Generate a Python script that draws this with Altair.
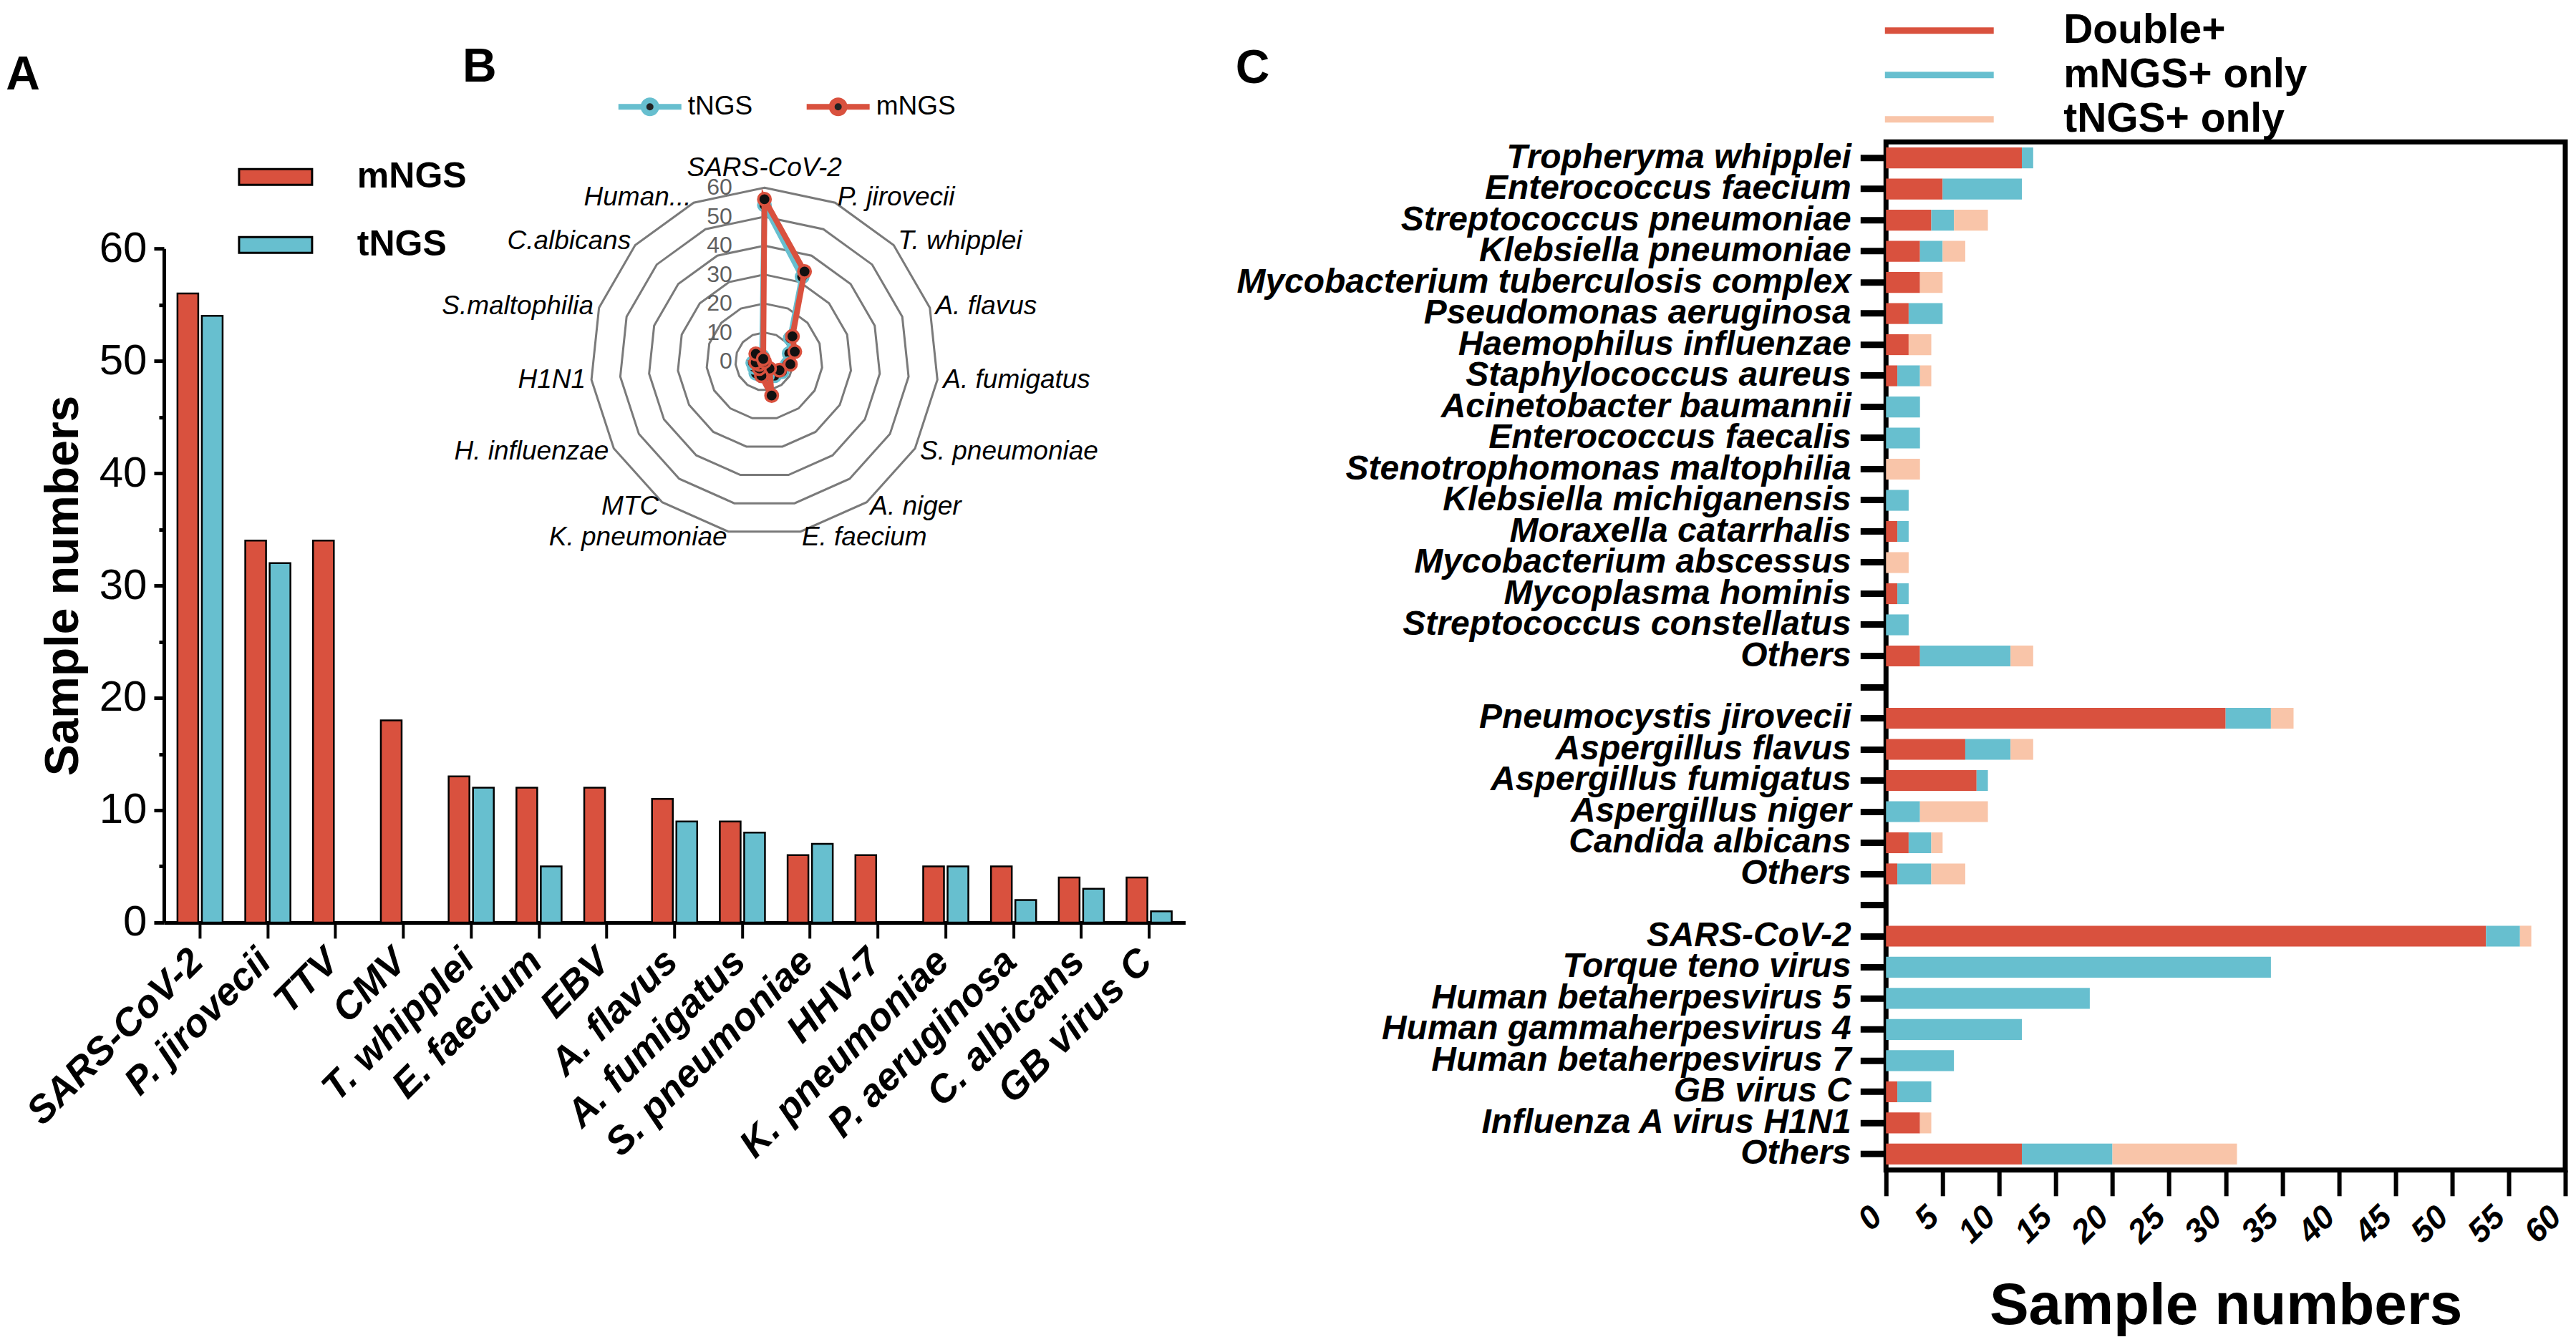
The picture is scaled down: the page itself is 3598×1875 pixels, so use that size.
import altair as alt
import pandas as pd

RED = "#D9513E"
TEAL = "#67BFCF"
PEACH = "#F9C5A9"
FONT = "Liberation Sans"

# ---------------- Panel A data ----------------
a_species = ["SARS-CoV-2", "P. jirovecii", "TTV", "CMV", "T. whipplei", "E. faecium", "EBV",
             "A. flavus", "A. fumigatus", "S. pneumoniae", "HHV-7", "K. pneumoniae",
             "P. aeruginosa", "C. albicans", "GB virus C"]
a_mngs = [56, 34, 34, 18, 13, 12, 12, 11, 9, 6, 6, 5, 5, 4, 4]
a_tngs = [54, 32, 0, 0, 12, 5, 0, 9, 8, 7, 0, 5, 2, 3, 1]
a_methods = ["mNGS", "tNGS"]

# ---------------- Panel B data ----------------
b_labels = ["SARS-CoV-2", "P. jirovecii", "T. whipplei", "A. flavus", "A. fumigatus",
            "S. pneumoniae", "A. niger", "E. faecium", "K. pneumoniae", "MTC",
            "H. influenzae", "H1N1", "S.maltophilia", "C.albicans", "Human..."]
b_mngs = [56, 34, 13, 11, 9, 6, 3, 12, 5, 3, 2, 3, 0, 4, 1]
b_tngs = [54, 32, 12, 9, 8, 7, 6, 5, 5, 5, 4, 4, 3, 3, 2]
b_rings = [10, 20, 30, 40, 50, 60]
b_ring_ticks = [0, 10, 20, 30, 40, 50, 60]

# ---------------- Panel C data ----------------
bac_names = ["Tropheryma whipplei", "Enterococcus faecium", "Streptococcus pneumoniae",
             "Klebsiella pneumoniae", "Mycobacterium tuberculosis complex",
             "Pseudomonas aeruginosa", "Haemophilus influenzae", "Staphylococcus aureus",
             "Acinetobacter baumannii", "Enterococcus faecalis", "Stenotrophomonas maltophilia",
             "Klebsiella michiganensis", "Moraxella catarrhalis", "Mycobacterium abscessus",
             "Mycoplasma hominis", "Streptococcus constellatus", "Others"]
bac_double = [12, 5, 4, 3, 3, 2, 2, 1, 0, 0, 0, 0, 1, 0, 1, 0, 3]
bac_monly = [1, 7, 2, 2, 0, 3, 0, 2, 3, 3, 0, 2, 1, 0, 1, 2, 8]
bac_tonly = [0, 0, 3, 2, 2, 0, 2, 1, 0, 0, 3, 0, 0, 2, 0, 0, 2]

fun_names = ["Pneumocystis jirovecii", "Aspergillus flavus", "Aspergillus fumigatus",
             "Aspergillus niger", "Candida albicans", "Others"]
fun_double = [30, 7, 8, 0, 2, 1]
fun_monly = [4, 4, 1, 3, 2, 3]
fun_tonly = [2, 2, 0, 6, 1, 3]

vir_names = ["SARS-CoV-2", "Torque teno virus", "Human betaherpesvirus 5",
             "Human gammaherpesvirus 4", "Human betaherpesvirus 7", "GB virus C",
             "Influenza A virus H1N1", "Others"]
vir_double = [53, 0, 0, 0, 0, 1, 3, 12]
vir_monly = [3, 34, 18, 12, 6, 3, 0, 8]
vir_tonly = [1, 0, 0, 0, 0, 0, 1, 11]

c_cats = ["Double+", "mNGS+ only", "tNGS+ only"]

# ---------------- layout constants (pixels) ----------------
LW, LH = 1427, 1091          # left plot area (panels A + B)
RW, RH = 949, 1437           # right plot area (panel C)
GAP = 979                    # space between the two plot areas
A_TOP = 149                  # pixel row of the value 60 in panel A
CX, CY, K = 839, 307, 4.05   # radar centre and pixels per unit

# ================= Panel A =================
dfa = pd.DataFrame({
    "species": a_species * 2,
    "method": ["mNGS"] * len(a_species) + ["tNGS"] * len(a_species),
    "count": a_mngs + a_tngs,
})

a_color = alt.Scale(domain=a_methods, range=[RED, TEAL])
rect_path = "M-2.55,-0.55L2.55,-0.55L2.55,0.55L-2.55,0.55Z"

bars_a = alt.Chart(dfa).mark_bar(stroke="black", strokeWidth=2.5).encode(
    x=alt.X("species:N", sort=a_species,
            scale=alt.Scale(paddingInner=0.334, paddingOuter=0.2),
            axis=alt.Axis(title=None, labelAngle=-45, labelAlign="right", labelBaseline="middle",
                          labelFontSize=54, labelFontWeight="bold", labelFontStyle="italic",
                          labelPadding=24, labelOffset=-4, tickSize=22, tickWidth=4,
                          domainWidth=5, labelLimit=1500)),
    xOffset=alt.XOffset("method:N", sort=a_methods,
                        scale=alt.Scale(paddingInner=0.147, paddingOuter=0)),
    y=alt.Y("count:Q",
            scale=alt.Scale(domain=[0, 60], range=[LH, A_TOP], nice=False),
            axis=alt.Axis(title="Sample numbers", values=list(range(0, 61, 5)),
                          labelExpr="datum.value % 10 == 0 ? datum.label : ''",
                          tickSize={"condition": {"test": "datum.value % 10 == 0", "value": 14},
                                    "value": 7},
                          tickWidth=5, domainWidth=5, labelFontSize=60, labelPadding=10,
                          titleFontSize=66, titleFontWeight="bold", titlePadding=16)),
    color=alt.Color("method:N", scale=a_color,
                    legend=alt.Legend(title=None, orient="none", legendX=131, legendY=24,
                                      symbolType=rect_path, symbolSize=1600,
                                      symbolStrokeColor="black", symbolStrokeWidth=3,
                                      labelFontSize=50, labelFontWeight="bold",
                                      labelOffset=89, rowPadding=45, padding=0)),
)

# ================= Panel B (radar) =================
n_b = len(b_labels)
bx = alt.Scale(domain=[-60, 60], range=[CX - 60 * K, CX + 60 * K], nice=False, zero=False)
by = alt.Scale(domain=[-60, 60], range=[CY + 60 * K, CY - 60 * K], nice=False, zero=False)
radar_color = alt.Scale(domain=["tNGS", "mNGS"], range=[TEAL, RED])

ring_df = pd.DataFrame([(r, i) for r in b_rings for i in range(n_b)], columns=["ring", "idx"])
rings = alt.Chart(ring_df).transform_calculate(
    ang=f"datum.idx * 2 * PI / {n_b}",
    rx="datum.ring * sin(datum.ang)",
    ry="datum.ring * cos(datum.ang)",
).mark_line(interpolate="linear-closed", color="#7a7a7a", strokeWidth=3).encode(
    x=alt.X("rx:Q", scale=bx, axis=None),
    y=alt.Y("ry:Q", scale=by, axis=None),
    detail="ring:N",
    order="idx:Q",
)

ring_lab = alt.Chart(pd.DataFrame({"v": b_ring_ticks})).transform_calculate(
    x0="0"
).mark_text(align="right", baseline="middle", dx=-45, fontSize=32, color="#606060").encode(
    x=alt.X("x0:Q", scale=bx, axis=None),
    y=alt.Y("v:Q", scale=by, axis=None),
    text="v:Q",
)

lab_df = pd.DataFrame({"label": b_labels, "idx": list(range(n_b))})


def cat_labels(cond, align, baseline):
    return alt.Chart(lab_df).transform_filter(cond).transform_calculate(
        ang=f"datum.idx * 2 * PI / {n_b}",
        lx="62 * sin(datum.ang)",
        ly="62 * cos(datum.ang)",
    ).mark_text(align=align, baseline=baseline, fontSize=37, fontStyle="italic").encode(
        x=alt.X("lx:Q", scale=bx, axis=None),
        y=alt.Y("ly:Q", scale=by, axis=None),
        text="label:N",
    )


lab_top = cat_labels("datum.idx == 0", "center", "bottom")
lab_right = cat_labels(f"datum.idx > 0 && datum.idx < {n_b / 2}", "left", "middle")
lab_left = cat_labels(f"datum.idx > {n_b / 2}", "right", "middle")

rad_df = pd.DataFrame({
    "label": b_labels * 2,
    "idx": list(range(n_b)) * 2,
    "series": ["tNGS"] * n_b + ["mNGS"] * n_b,
    "value": b_tngs + b_mngs,
})

legend_path = ("M-2.2,0L-0.45,0M0.45,0L2.2,0"
               "M0.45,0A0.45,0.45,0,1,1,-0.45,0A0.45,0.45,0,1,1,0.45,0Z")


def radar_base(series):
    return alt.Chart(rad_df).transform_filter(f"datum.series == '{series}'").transform_calculate(
        ang=f"datum.idx * 2 * PI / {n_b}",
        px="datum.value * sin(datum.ang)",
        py="datum.value * cos(datum.ang)",
    )


def radar_line(series, legend):
    return radar_base(series).mark_line(interpolate="linear-closed", strokeWidth=8).encode(
        x=alt.X("px:Q", scale=bx, axis=None),
        y=alt.Y("py:Q", scale=by, axis=None),
        color=alt.Color("series:N", scale=radar_color, legend=legend),
        order="idx:Q",
    )


def radar_pts(series):
    return radar_base(series).mark_point(filled=True, fill="#111111", size=300, strokeWidth=3.5,
                                         opacity=1).encode(
        x=alt.X("px:Q", scale=bx, axis=None),
        y=alt.Y("py:Q", scale=by, axis=None),
        stroke=alt.Stroke("series:N", scale=radar_color, legend=None),
    )


rad_legend = alt.Legend(title=None, orient="none", direction="horizontal",
                        legendX=655, legendY=-73, symbolType=legend_path, symbolSize=1600,
                        symbolStrokeWidth=8, symbolFillColor="#222222",
                        labelFontSize=37, labelOffset=29, columnPadding=59, padding=0)

radar = alt.layer(
    rings, ring_lab, lab_top, lab_right, lab_left,
    radar_line("tNGS", rad_legend), radar_pts("tNGS"),
    radar_line("mNGS", rad_legend), radar_pts("mNGS"),
)

pix = alt.Scale(domain=[0, LW], range=[0, LW], nice=False, zero=False)
pix_y = alt.Scale(domain=[0, LH], range=[0, LH], nice=False, zero=False)
letters_left = alt.Chart(pd.DataFrame({"t": ["A", "B"], "px": [-197, 441], "py": [-93, -104]})).mark_text(
    fontSize=66, fontWeight="bold", align="center", baseline="middle"
).encode(
    x=alt.X("px:Q", scale=pix, axis=None),
    y=alt.Y("py:Q", scale=pix_y, axis=None),
    text="t:N",
)

left = alt.layer(bars_a, radar, letters_left).resolve_scale(
    x="independent", y="independent", color="independent", stroke="independent"
).properties(width=LW, height=LH)

# ================= Panel C =================
groups = [
    ("bac", bac_names, bac_double, bac_monly, bac_tonly),
    ("fun", fun_names, fun_double, fun_monly, fun_tonly),
    ("vir", vir_names, vir_double, vir_monly, vir_tonly),
]
rows = []
c_domain = []
for gi, (g, names, d, m, t) in enumerate(groups):
    if gi > 0:
        c_domain.append(f"gap{gi}|")
    for j, nm in enumerate(names):
        key = f"{g}|{nm}"
        c_domain.append(key)
        for ci, (cat, vals) in enumerate(zip(c_cats, (d, m, t))):
            rows.append({"key": key, "cat": cat, "ord": ci, "value": vals[j]})
dfc = pd.DataFrame(rows)

c_color = alt.Scale(domain=c_cats, range=[RED, TEAL, PEACH])
legend_c_path = "M-3.8,-0.225L3.8,-0.225L3.8,0.225L-3.8,0.225Z"

bars_c = alt.Chart(dfc).mark_bar().encode(
    y=alt.Y("key:N", scale=alt.Scale(domain=c_domain, paddingInner=0.33, paddingOuter=0.18),
            axis=alt.Axis(title=None, labelExpr="split(datum.value, '|')[1]",
                          labelFontSize=48, labelFontWeight="bold", labelFontStyle="italic",
                          labelPadding=13, tickSize=36, tickWidth=9, domain=False,
                          labelLimit=2000)),
    x=alt.X("value:Q", stack="zero", scale=alt.Scale(domain=[0, 60], nice=False),
            axis=alt.Axis(title="Sample numbers", values=list(range(0, 61, 5)),
                          labelAngle=-45, labelAlign="right", labelBaseline="middle",
                          labelFontSize=46, labelFontWeight="bold", labelFontStyle="italic",
                          labelPadding=22, labelOffset=-13, tickSize=36, tickWidth=6,
                          domain=False,
                          titleFontSize=82, titleFontWeight="bold", titlePadding=39)),
    color=alt.Color("cat:N", scale=c_color,
                    legend=alt.Legend(title=None, orient="none", legendX=LW + GAP + 46,
                                      legendY=-184,
                                      symbolType=legend_c_path, symbolSize=1600,
                                      symbolStrokeWidth=0,
                                      labelFontSize=57, labelFontWeight="bold",
                                      labelOffset=145, rowPadding=4, padding=0)),
    order=alt.Order("ord:Q"),
)

letter_c = alt.Chart(pd.DataFrame({"t": ["C"]})).mark_text(
    fontSize=66, fontWeight="bold", align="center", baseline="middle"
).encode(x=alt.value(-885), y=alt.value(-102), text="t:N")

right = alt.layer(bars_c, letter_c).properties(
    width=RW, height=RH, view=alt.ViewBackground(stroke="black", strokeWidth=7)
)

chart = alt.hconcat(left, right, spacing=GAP, bounds="flush").properties(
    padding={"left": 0, "top": 6, "right": 0, "bottom": 0}
).configure(font=FONT).configure_view(stroke=None).configure_axis(
    labelFont=FONT, titleFont=FONT, labelColor="black", titleColor="black",
    tickColor="black", domainColor="black", grid=False, labelLimit=2000
).configure_legend(labelFont=FONT, labelColor="black", labelLimit=2000).configure_text(font=FONT)

chart.save("out.html", embed_options={"renderer": "svg", "actions": False})
